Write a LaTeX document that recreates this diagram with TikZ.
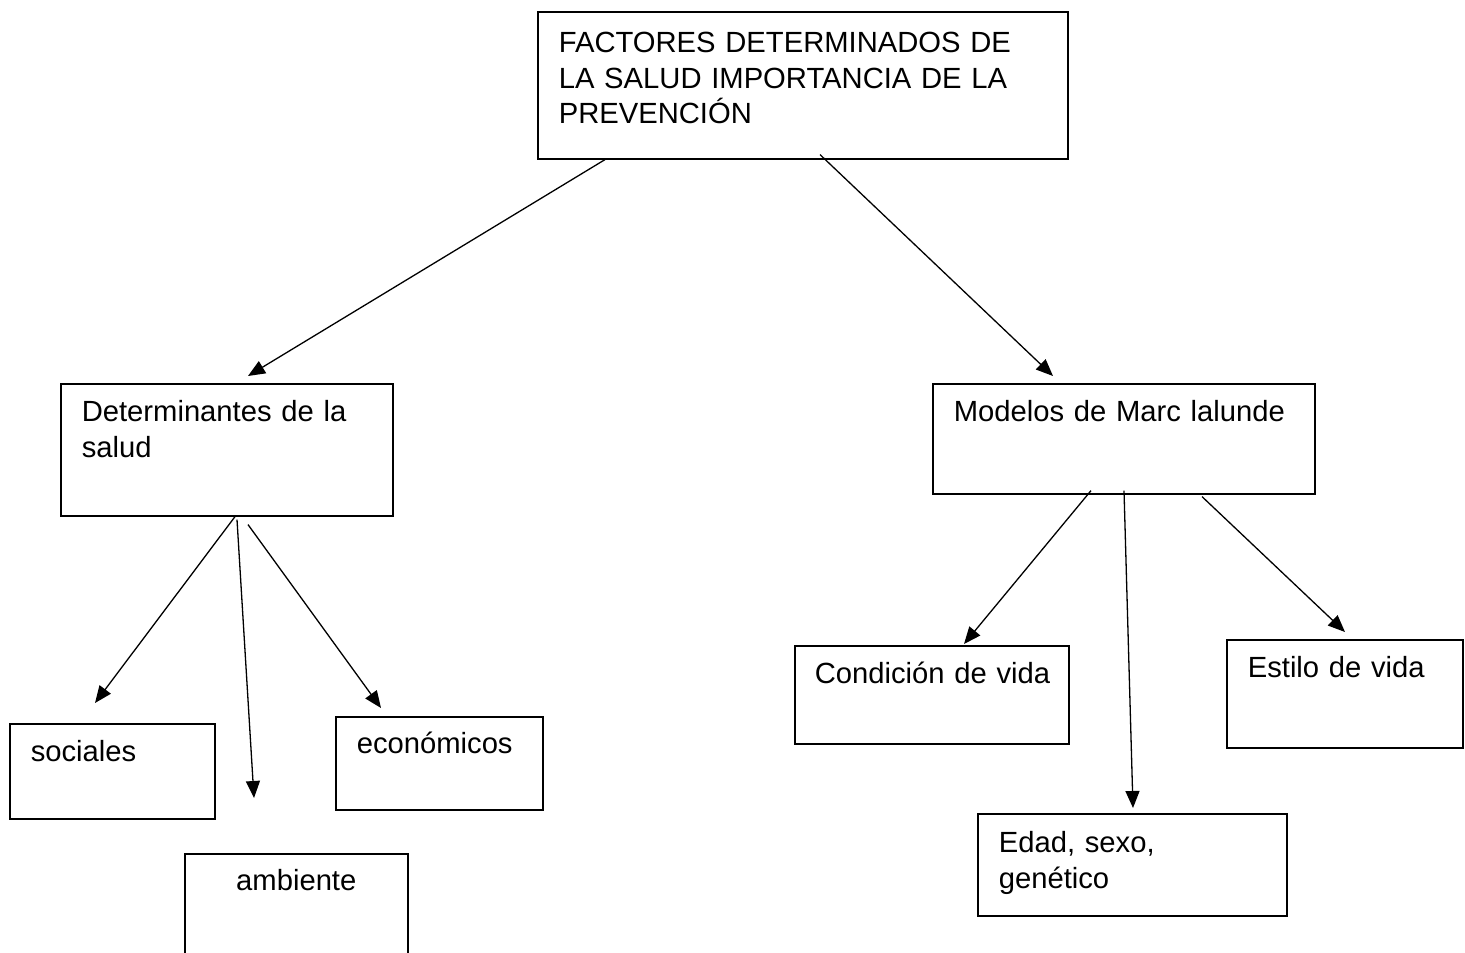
\documentclass[tikz,border=0pt]{standalone}
\usepackage{fontspec}
\setmainfont{Liberation Sans}
\usetikzlibrary{arrows.meta}

\begin{document}
\begin{tikzpicture}[x=0.5pt,y=-0.5pt,->,>={Triangle[length=8.5pt,width=7pt]},line width=0.65pt,
    main node/.style={draw,line width=0.8pt,anchor=north west,inner xsep=10.5pt,inner ysep=0pt,text height=19pt,align=left,font=\fontsize{14.6pt}{17.75pt}\selectfont}]
    \useasboundingbox (0,0) rectangle (1465,952);

    \node[main node,text width=244pt,text height=20.5pt,text depth=53pt] (factores) at (537,11) {FACTORES DETERMINADOS DE\\LA SALUD IMPORTANCIA DE LA\\PREVENCIÓN};
    \node[main node,text width=145pt,text depth=47pt] (determinantes) at (60,383) {Determinantes de la\\salud};
    \node[main node,text width=170pt,text depth=36pt] (modelos) at (932,383) {Modelos de Marc lalunde};
    \node[main node,text width=81.5pt,text depth=28.5pt] (sociales) at (9,723) {sociales};
    \node[main node,align=center,text width=90.5pt,text height=18.5pt,text depth=35pt] (ambiente) at (184,853) {ambiente};
    \node[main node,text width=82.5pt,text height=18.5pt,text depth=28pt] (economicos) at (335,716) {económicos};
    \node[main node,inner xsep=10pt,text width=117pt,text depth=30pt] (condicion) at (794,645) {\mbox{Condición de vida}};
    \node[main node,text width=97pt,text depth=35pt] (estilo) at (1226,639) {Estilo de vida};
    \node[main node,text width=133.5pt,text height=19.5pt,text depth=31.5pt] (edad) at (977,813) {Edad, sexo,\\genético};

    \path
    ([xshift=34pt]factores.south west) edge ([xshift=94pt,yshift=3.5pt]determinantes.north west)
    ([xshift=141.5pt,yshift=2.5pt]factores.south west) edge ([xshift=60.5pt,yshift=3.5pt]modelos.north west)
    ([xshift=87.5pt]determinantes.south west) edge ([xshift=43pt,yshift=10pt]sociales.north west)
    ([xshift=88.5pt,yshift=-1.5pt]determinantes.south west) edge ([xshift=35pt,yshift=27.5pt]ambiente.north west)
    ([xshift=94pt,yshift=-4pt]determinantes.south west) edge ([xshift=23pt,yshift=4pt]economicos.north west)
    ([xshift=79.5pt,yshift=2pt]modelos.south west) edge ([xshift=85pt,yshift=0.5pt]condicion.north west)
    ([xshift=96pt,yshift=2pt]modelos.south west) edge ([xshift=78pt,yshift=2.5pt]edad.north west)
    ([xshift=135pt,yshift=-1pt]modelos.south west) edge ([xshift=59.5pt,yshift=3.5pt]estilo.north west);
\end{tikzpicture}
\end{document}
